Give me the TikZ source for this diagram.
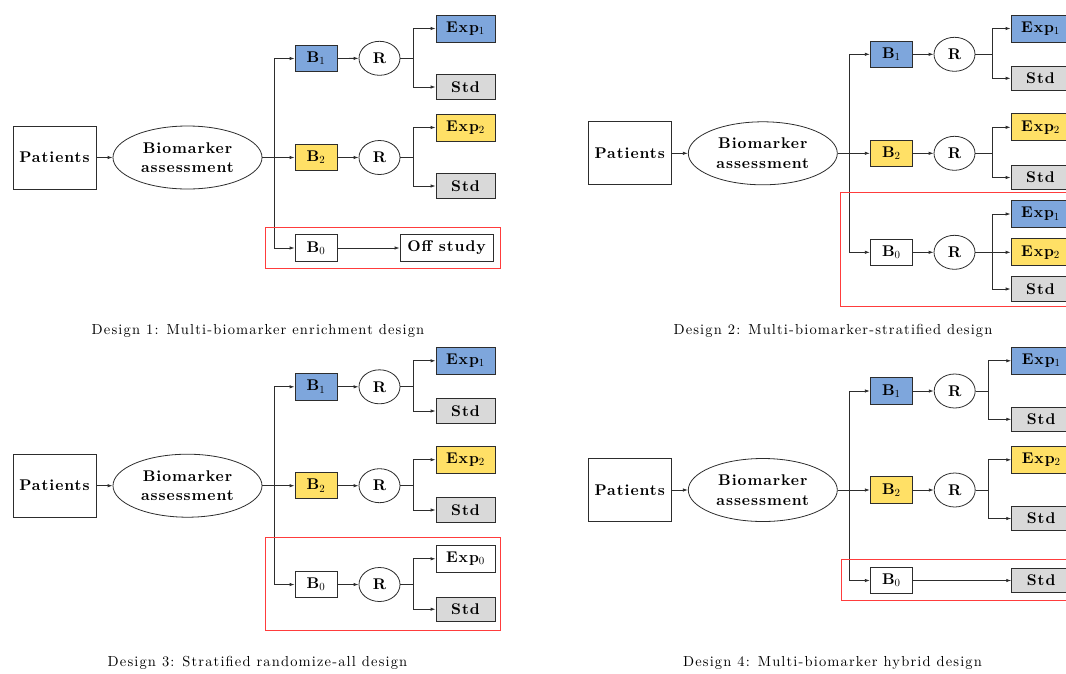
\documentclass[tikz,border=0pt]{standalone}
\usepackage{fontspec}
\usetikzlibrary{arrows.meta,shapes.geometric}

% Latin Modern, loaded by file so that tracking can be set
\setmainfont{lmroman10-regular.otf}[BoldFont=lmroman10-bold.otf]
\newfontfamily\boxfont{lmroman10-regular.otf}[BoldFont=lmroman10-bold.otf, LetterSpace=6]
\newfontfamily\capfont{lmroman10-regular.otf}[LetterSpace=8]

\definecolor{bioblue}{RGB}{126,166,220}
\definecolor{bioyellow}{RGB}{255,224,102}
\definecolor{stdgray}{RGB}{217,217,217}
\definecolor{edge}{RGB}{45,45,45}
\definecolor{framered}{RGB}{255,60,60}

% light-weight index below the baseline
\newcommand{\lowidx}[1]{\textsubscript{\mdseries #1}}

\tikzset{
  base/.style={font=\boxfont\fontsize{15.5}{19.5}\selectfont\bfseries,
               draw=edge, line width=0.8pt},
  startbox/.style={base, rectangle, minimum width=83pt, minimum height=63pt, inner sep=0pt},
  assess/.style={base, ellipse, minimum width=149pt, minimum height=63pt, inner sep=0pt, align=center},
  grp/.style={base, rectangle, minimum width=42pt, inner xsep=0pt, inner ysep=6.7pt},
  rand/.style={base, ellipse, minimum width=41pt, minimum height=34pt, inner sep=0pt},
  arm/.style={base, rectangle, minimum width=59pt, inner xsep=0pt, inner ysep=6.7pt},
  offbox/.style={base, rectangle, minimum width=93pt, inner xsep=0pt, inner ysep=6.7pt},
  link/.style={draw=edge, line width=0.8pt, -{Latex[length=5pt,width=3.4pt]}},
  frame/.style={draw=framered, line width=0.9pt},
  legend/.style={font=\capfont\fontsize{14.5}{17}\selectfont},
}

\begin{document}
\begin{tikzpicture}[x=1pt,y=-1pt]
\useasboundingbox (0,0) rectangle (1066,673);
\clip (0,0) rectangle (1066,673);

% ---------------- Design 1 ----------------
\node[startbox] (p1) at (54.5,157.5) {Patients};
\node[assess] (a1) at (187.5,157.5) {Biomarker\\assessment};
\node[grp, fill=bioblue]   (d1b1) at (316,58.5) {B\lowidx{1}};
\node[grp, fill=bioyellow] (d1b2) at (316,157.5) {B\lowidx{2}};
\node[grp, fill=white]     (d1b0) at (316,248) {B\lowidx{0}};
\node[rand] (d1r1) at (379.5,58.3) {R};
\node[rand] (d1r2) at (379.5,157.5) {R};
\node[arm, fill=bioblue]   (d1e1) at (465.5,28.5) {Exp\lowidx{1}};
\node[arm, fill=stdgray]   (d1s1) at (465.5,87) {Std};
\node[arm, fill=bioyellow] (d1e2) at (465.5,127.5) {Exp\lowidx{2}};
\node[arm, fill=stdgray]   (d1s2) at (465.5,186) {Std};
\node[offbox] (d1off) at (446.5,248) {Off study};

\draw[link] (p1) -- (a1);
\draw[link] (a1) -- (d1b2);
\draw[link] (a1.east) -- ++(12,0) |- (d1b1);
\draw[link] (a1.east) -- ++(12,0) |- (d1b0);
\draw[link] (d1b1) -- (d1r1);
\draw[link] (d1b2) -- (d1r2);
\draw[link] (d1b0) -- (d1off);
\draw[link] (d1r1.east) -- ++(13,0) |- (d1e1);
\draw[link] (d1r1.east) -- ++(13,0) |- (d1s1);
\draw[link] (d1r2.east) -- ++(13,0) |- (d1e2);
\draw[link] (d1r2.east) -- ++(13,0) |- (d1s2);
\draw[frame] (265.7,227) rectangle (500.7,268);
\node[legend] (c1) at (258,331) {Design 1: Multi-biomarker enrichment design};

% ---------------- Design 2 ----------------
\node[startbox] (p2) at (629.7,153.3) {Patients};
\node[assess] (a2) at (762.8,153.3) {Biomarker\\assessment};
\node[grp, fill=bioblue]   (d2b1) at (891.3,54.3) {B\lowidx{1}};
\node[grp, fill=bioyellow] (d2b2) at (891.3,153.3) {B\lowidx{2}};
\node[grp, fill=white]     (d2b0) at (891.3,252.3) {B\lowidx{0}};
\node[rand] (d2r1) at (954.5,54.3) {R};
\node[rand] (d2r2) at (954.5,153.3) {R};
\node[rand] (d2r0) at (954.5,252.3) {R};
\node[arm, fill=bioblue]   (d2e1) at (1040.5,28.5) {Exp\lowidx{1}};
\node[arm, fill=stdgray]   (d2s1) at (1040.5,78.3) {Std};
\node[arm, fill=bioyellow] (d2e2) at (1040.5,127.3) {Exp\lowidx{2}};
\node[arm, fill=stdgray]   (d2s2) at (1040.5,177.5) {Std};
\node[arm, fill=bioblue]   (d2e01) at (1040.5,214) {Exp\lowidx{1}};
\node[arm, fill=bioyellow] (d2e02) at (1040.5,252.3) {Exp\lowidx{2}};
\node[arm, fill=stdgray]   (d2s0) at (1040.5,289) {Std};

\draw[link] (p2) -- (a2);
\draw[link] (a2) -- (d2b2);
\draw[link] (a2.east) -- ++(12,0) |- (d2b1);
\draw[link] (a2.east) -- ++(12,0) |- (d2b0);
\draw[link] (d2b1) -- (d2r1);
\draw[link] (d2b2) -- (d2r2);
\draw[link] (d2b0) -- (d2r0);
\draw[link] (d2r1.east) -- ++(17,0) |- (d2e1);
\draw[link] (d2r1.east) -- ++(17,0) |- (d2s1);
\draw[link] (d2r2.east) -- ++(17,0) |- (d2e2);
\draw[link] (d2r2.east) -- ++(17,0) |- (d2s2);
\draw[link] (d2r0.east) -- ++(17,0) |- (d2e01);
\draw[link] (d2r0) -- (d2e02);
\draw[link] (d2r0.east) -- ++(17,0) |- (d2s0);
\draw[frame] (840.7,192.7) rectangle (1075,306);
\node[legend] (c2) at (833,331) {Design 2: Multi-biomarker-stratified design};

% ---------------- Design 3 ----------------
\node[startbox] (p3) at (54.5,485.7) {Patients};
\node[assess] (a3) at (187.5,485.7) {Biomarker\\assessment};
\node[grp, fill=bioblue]   (d3b1) at (316,386.8) {B\lowidx{1}};
\node[grp, fill=bioyellow] (d3b2) at (316,485.7) {B\lowidx{2}};
\node[grp, fill=white]     (d3b0) at (316,584.5) {B\lowidx{0}};
\node[rand] (d3r1) at (379.5,386.8) {R};
\node[rand] (d3r2) at (379.5,485.7) {R};
\node[rand] (d3r0) at (379.5,584.5) {R};
\node[arm, fill=bioblue]   (d3e1) at (465.5,360.8) {Exp\lowidx{1}};
\node[arm, fill=stdgray]   (d3s1) at (465.5,411) {Std};
\node[arm, fill=bioyellow] (d3e2) at (465.5,459.7) {Exp\lowidx{2}};
\node[arm, fill=stdgray]   (d3s2) at (465.5,510) {Std};
\node[arm, fill=white]     (d3e0) at (465.5,558.8) {Exp\lowidx{0}};
\node[arm, fill=stdgray]   (d3s0) at (465.5,609.2) {Std};

\draw[link] (p3) -- (a3);
\draw[link] (a3) -- (d3b2);
\draw[link] (a3.east) -- ++(12,0) |- (d3b1);
\draw[link] (a3.east) -- ++(12,0) |- (d3b0);
\draw[link] (d3b1) -- (d3r1);
\draw[link] (d3b2) -- (d3r2);
\draw[link] (d3b0) -- (d3r0);
\draw[link] (d3r1.east) -- ++(13,0) |- (d3e1);
\draw[link] (d3r1.east) -- ++(13,0) |- (d3s1);
\draw[link] (d3r2.east) -- ++(13,0) |- (d3e2);
\draw[link] (d3r2.east) -- ++(13,0) |- (d3s2);
\draw[link] (d3r0.east) -- ++(13,0) |- (d3e0);
\draw[link] (d3r0.east) -- ++(13,0) |- (d3s0);
\draw[frame] (265.7,537.3) rectangle (500.3,630.3);
\node[legend] (c3) at (257.5,663) {Design 3: Stratified randomize-all design};

% ---------------- Design 4 ----------------
\node[startbox] (p4) at (629.7,490) {Patients};
\node[assess] (a4) at (762.8,490) {Biomarker\\assessment};
\node[grp, fill=bioblue]   (d4b1) at (891.3,391) {B\lowidx{1}};
\node[grp, fill=bioyellow] (d4b2) at (891.3,490) {B\lowidx{2}};
\node[grp, fill=white]     (d4b0) at (891.3,580.5) {B\lowidx{0}};
\node[rand] (d4r1) at (954.7,391) {R};
\node[rand] (d4r2) at (954.7,490) {R};
\node[arm, fill=bioblue]   (d4e1) at (1041.2,360.8) {Exp\lowidx{1}};
\node[arm, fill=stdgray]   (d4s1) at (1041.2,419.3) {Std};
\node[arm, fill=bioyellow] (d4e2) at (1041.2,459.8) {Exp\lowidx{2}};
\node[arm, fill=stdgray]   (d4s2) at (1041.2,518.5) {Std};
\node[arm, fill=stdgray]   (d4s0) at (1041.2,580.5) {Std};

\draw[link] (p4) -- (a4);
\draw[link] (a4) -- (d4b2);
\draw[link] (a4.east) -- ++(12,0) |- (d4b1);
\draw[link] (a4.east) -- ++(12,0) |- (d4b0);
\draw[link] (d4b1) -- (d4r1);
\draw[link] (d4b2) -- (d4r2);
\draw[link] (d4b0) -- (d4s0);
\draw[link] (d4r1.east) -- ++(12.5,0) |- (d4e1);
\draw[link] (d4r1.east) -- ++(12.5,0) |- (d4s1);
\draw[link] (d4r2.east) -- ++(12.5,0) |- (d4e2);
\draw[link] (d4r2.east) -- ++(12.5,0) |- (d4s2);
\draw[frame] (841,559) rectangle (1075,600.7);
\node[legend] (c4) at (832.5,663) {Design 4: Multi-biomarker hybrid design};
\end{tikzpicture}
\end{document}
